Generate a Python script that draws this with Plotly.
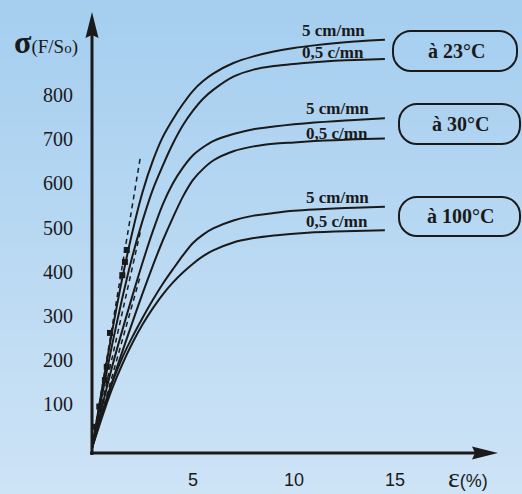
import plotly.graph_objects as go

# ---------------- data ----------------
x_23_fast = [0, 0.5, 1, 1.5, 2, 2.5, 3, 3.5, 4, 4.5, 5, 5.5, 6, 7, 8, 9, 10, 11, 12, 13, 14.5]
y_23_fast = [0, 135, 265, 385, 490, 580, 650, 705, 745, 780, 810, 832, 849, 873, 888, 899, 907, 913, 918, 922, 926]
x_23_slow = [0, 0.5, 1, 1.5, 2, 2.5, 3, 3.5, 4, 4.5, 5, 5.5, 6, 7, 8, 9, 10, 11, 12, 13, 14.5]
y_23_slow = [0, 120, 235, 340, 435, 515, 585, 640, 690, 732, 765, 792, 812, 842, 858, 866, 871, 875, 878, 880, 882]

x_30_fast = [0, 1, 2, 2.5, 3, 3.5, 4, 4.5, 5, 5.5, 6, 7, 8, 9, 10, 11, 12, 13, 14.5]
y_30_fast = [0, 185, 345, 420, 490, 552, 600, 636, 664, 682, 696, 712, 723, 729, 734, 738, 741, 744, 748]
x_30_slow = [0, 1, 2, 2.5, 3, 3.5, 4, 4.5, 5, 5.5, 6, 7, 8, 9, 10, 11, 12, 13, 14.5]
y_30_slow = [0, 150, 285, 350, 412, 470, 522, 570, 608, 633, 652, 673, 684, 690, 693, 696, 698, 700, 702]

x_100_fast = [0, 0.5, 1, 1.5, 2, 2.5, 3, 3.5, 4, 4.5, 5, 5.5, 6, 7, 8, 9, 10, 11, 12, 13, 14.5]
y_100_fast = [0, 80, 148, 205, 252, 295, 335, 372, 405, 437, 465, 484, 498, 516, 527, 533, 538, 541, 543, 545, 547]
x_100_slow = [0, 0.5, 1, 1.5, 2, 2.5, 3, 3.5, 4, 4.5, 5, 5.5, 6, 7, 8, 9, 10, 11, 12, 13, 14.5]
y_100_slow = [0, 70, 135, 190, 238, 280, 316, 348, 375, 398, 418, 435, 448, 466, 476, 482, 486, 489, 491, 492, 494]

# dashed initial tangents (start / end)
tangent_x = [[0, 2.41], [0, 2.41], [0, 2.38]]
tangent_y = [[0, 664], [0, 494], [0, 388]]

# measured points near the origin
pts_x = [0.2, 0.36, 0.64, 0.73, 0.89, 1.5, 1.63, 1.72]
pts_y = [48, 94, 154, 184, 261, 392, 422, 449]

x_ticks = [5, 10, 15]
y_ticks = [100, 200, 300, 400, 500, 600, 700, 800]

speed_fast = "5 cm/mn"
speed_slow = "0,5 c/mn"
temps = ["à 23°C", "à 30°C", "à 100°C"]

# ---------------- figure ----------------
W, H = 522, 494
L, R, T, B = 92, 24, 12, 41
pw, ph = W - L - R, H - T - B
INK = "#1a1a1a"


def pp(x, y):
    """pixel -> paper coordinates"""
    return (x - L) / pw, (H - B - y) / ph


fig = go.Figure()

curves = [(x_23_fast, y_23_fast), (x_23_slow, y_23_slow),
          (x_30_fast, y_30_fast), (x_30_slow, y_30_slow),
          (x_100_fast, y_100_fast), (x_100_slow, y_100_slow)]
for cx, cy in curves:
    fig.add_trace(go.Scatter(x=cx, y=cy, mode="lines",
                             line=dict(color=INK, width=2, shape="spline", smoothing=0.8),
                             hoverinfo="skip", showlegend=False))

for tx, ty in zip(tangent_x, tangent_y):
    fig.add_trace(go.Scatter(x=tx, y=ty, mode="lines",
                             line=dict(color=INK, width=1.5, dash="5px,4px"),
                             hoverinfo="skip", showlegend=False))

fig.add_trace(go.Scatter(x=pts_x, y=pts_y, mode="markers",
                         marker=dict(symbol="square", size=6, color=INK),
                         hoverinfo="skip", showlegend=False))

shapes = []
# background gradient bands
top_c = (165, 206, 239)
bot_c = (205, 227, 246)
n = 40
for i in range(n):
    f = i / (n - 1)
    c = tuple(round(top_c[k] + (bot_c[k] - top_c[k]) * f) for k in range(3))
    y0 = i * H / n
    y1 = (i + 1) * H / n + 0.6
    x0p, y0p = pp(-2, y0)
    x1p, y1p = pp(W + 2, y1)
    shapes.append(dict(type="rect", xref="paper", yref="paper", x0=x0p, x1=x1p,
                       y0=y1p, y1=y0p, fillcolor="rgb(%d,%d,%d)" % c,
                       line=dict(width=0), layer="below"))


def line_px(x0, y0, x1, y1, w):
    a, b = pp(x0, y0)
    c, d = pp(x1, y1)
    return dict(type="line", xref="paper", yref="paper", x0=a, y0=b, x1=c, y1=d,
                line=dict(color=INK, width=w), layer="above")


def path_px(points, fill=INK):
    s = ""
    for i, (x, y) in enumerate(points):
        a, b = pp(x, y)
        s += ("M" if i == 0 else "L") + "%.5f,%.5f " % (a, b)
    s += "Z"
    return dict(type="path", xref="paper", yref="paper", path=s,
                fillcolor=fill, line=dict(color=INK, width=0), layer="above")


shapes.append(line_px(92, 455, 92, 30, 3))
shapes.append(line_px(90, 453, 480, 453, 3))
shapes.append(path_px([(92, 12), (98.5, 38), (92, 35), (85.5, 38)]))
shapes.append(path_px([(498, 453), (472, 459.5), (475, 453), (472, 446.5)]))


def rounded_box(x0, y0, x1, y1, r):
    k = 0.5523 * r

    def P(x, y):
        a, b = pp(x, y)
        return "%.5f,%.5f" % (a, b)
    s = "M" + P(x0 + r, y0)
    s += " L" + P(x1 - r, y0)
    s += " C" + P(x1 - r + k, y0) + " " + P(x1, y0 + r - k) + " " + P(x1, y0 + r)
    s += " L" + P(x1, y1 - r)
    s += " C" + P(x1, y1 - r + k) + " " + P(x1 - r + k, y1) + " " + P(x1 - r, y1)
    s += " L" + P(x0 + r, y1)
    s += " C" + P(x0 + r - k, y1) + " " + P(x0, y1 - r + k) + " " + P(x0, y1 - r)
    s += " L" + P(x0, y0 + r)
    s += " C" + P(x0, y0 + r - k) + " " + P(x0 + r - k, y0) + " " + P(x0 + r, y0)
    s += " Z"
    return dict(type="path", xref="paper", yref="paper", path=s,
                fillcolor="rgba(0,0,0,0)", line=dict(color=INK, width=2), layer="above")


boxes = [(393, 31, 517, 71), (399, 104, 520, 144), (399, 197, 520, 236)]
for bx in boxes:
    shapes.append(rounded_box(*bx, r=18))

annotations = []


def text_px(x, y, txt, size, family="Liberation Serif", xanchor="center"):
    a, b = pp(x, y)
    annotations.append(dict(xref="paper", yref="paper", x=a, y=b, text=txt,
                            showarrow=False, xanchor=xanchor, yanchor="middle",
                            font=dict(family=family, size=size, color=INK)))


label_pos = [((333, 30), (333, 53)), ((337, 108), (337, 133)), ((337, 197), (337, 221))]
for (pf, ps) in label_pos:
    text_px(pf[0], pf[1], "<b>%s</b>" % speed_fast, 17)
    text_px(ps[0], ps[1], "<b>%s</b>" % speed_slow, 17)

temp_pos = [(456, 51), (460, 124), (460, 216)]
for (tx, ty), t in zip(temp_pos, temps):
    text_px(tx, ty, "<b>%s</b>" % t, 20)

text_px(12, 42, "<b>σ</b><span style='font-size:19px'>(F/S</span>"
        "<span style='font-size:15px'>o</span><span style='font-size:19px'>)</span>",
        32, xanchor="left")
text_px(446, 477, "<span style='font-family:Liberation Serif;font-size:28px'>ε</span>"
        "<span style='font-size:18px'>(%)</span>", 18, family="Liberation Sans",
        xanchor="left")

fig.update_layout(
    width=W, height=H,
    margin=dict(l=L, r=R, t=T, b=B, pad=0, autoexpand=False),
    paper_bgcolor="rgb(185,216,242)",
    plot_bgcolor="rgba(0,0,0,0)",
    shapes=shapes,
    annotations=annotations,
    showlegend=False,
    xaxis=dict(range=[0, pw / 20.2], tickvals=x_ticks, ticks="", showgrid=False,
               zeroline=False, showline=False, ticklabelstandoff=14, automargin=False,
               tickfont=dict(family="Liberation Sans", size=18, color=INK)),
    yaxis=dict(range=[-11.3, -11.3 + ph / 0.441], tickvals=y_ticks, ticks="",
               showgrid=False, zeroline=False, showline=False, ticklabelstandoff=18,
               automargin=False,
               tickfont=dict(family="Liberation Serif", size=20, color=INK)),
)

fig.write_html("out.html", config={"displayModeBar": False},
               post_script="document.body.style.margin='0px';"
                           "document.body.style.overflow='hidden';")
